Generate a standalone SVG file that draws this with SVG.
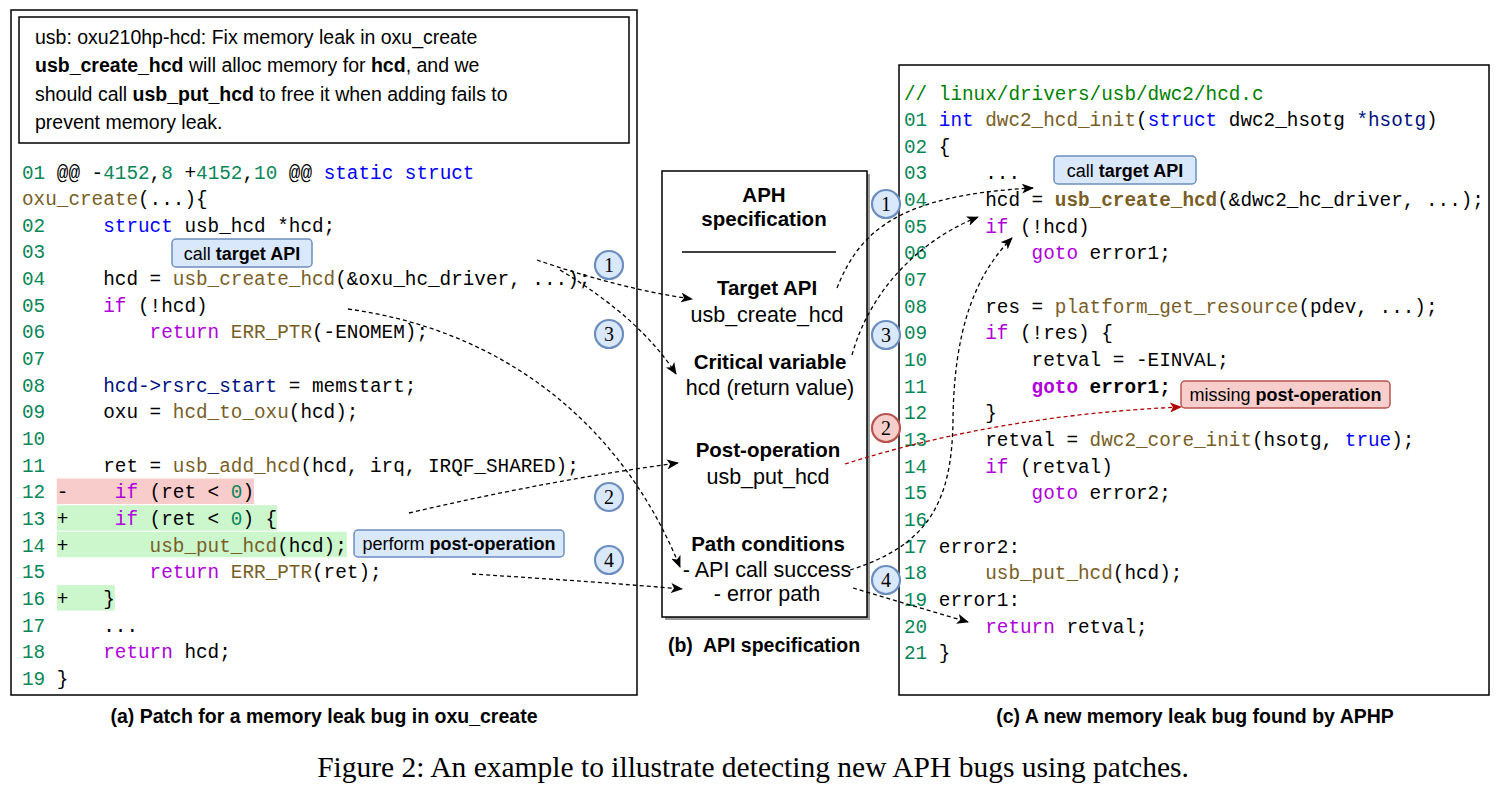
<svg xmlns="http://www.w3.org/2000/svg" width="1504" height="787" viewBox="0 0 1504 787">
<style>
.code{font-family:"Liberation Mono","DejaVu Sans Mono",monospace;font-size:19.33px;fill:#000;white-space:pre}
.n{fill:#098658}.k{fill:#0000ff}.m{fill:#af00db}.f{fill:#795e26}.v{fill:#001080}.c{fill:#008000}
.b{font-weight:bold}
.sans{font-family:"Liberation Sans",Arial,sans-serif;fill:#000}
.panel{fill:#fff;stroke:#000;stroke-width:1.5}
.blue{fill:#dae8fc;stroke:#6c8ebf;stroke-width:1.5}
.red{fill:#f8cecc;stroke:#b85450;stroke-width:1.5}
.circB{fill:#dae8fc;stroke:#6c8ebf;stroke-width:2.2}
.circR{fill:#f8cecc;stroke:#b85450;stroke-width:2.2}
.num{font-family:"Liberation Serif","Times New Roman",serif;font-size:20px;text-anchor:middle;fill:#000}
.dash{fill:none;stroke:#000;stroke-width:1.3;stroke-dasharray:4 3}
.dashR{fill:none;stroke:#b00000;stroke-width:1.3;stroke-dasharray:4 3}
.mid{font-family:"Liberation Sans",Arial,sans-serif;font-size:21.5px;text-anchor:middle;fill:#000}
.midb{font-family:"Liberation Sans",Arial,sans-serif;font-size:20.5px;font-weight:bold;text-anchor:middle;fill:#000}
</style>
<defs>
<marker id="ah" viewBox="0 0 12 10" refX="11" refY="5" markerWidth="12" markerHeight="10" markerUnits="userSpaceOnUse" orient="auto"><path d="M0,0 L12,5 L0,10 L3,5 z" fill="#000"/></marker>
<marker id="ahR" viewBox="0 0 12 10" refX="11" refY="5" markerWidth="12" markerHeight="10" markerUnits="userSpaceOnUse" orient="auto"><path d="M0,0 L12,5 L0,10 L3,5 z" fill="#b00000"/></marker>
</defs>
<rect width="1504" height="787" fill="#fff"/>

<!-- (a) left panel -->
<g id="left-panel">
<rect class="panel" x="11" y="10" width="626" height="685"/>
<g id="commit-msg">
<rect class="panel" x="19" y="17" width="610" height="126"/>
<text class="sans" font-size="19.5" x="35" y="43.5">usb: oxu210hp-hcd: Fix memory leak in oxu_create</text>
<text class="sans" font-size="19.5" x="35" y="72"><tspan class="b">usb_create_hcd</tspan> will alloc memory for <tspan class="b">hcd</tspan>, and we</text>
<text class="sans" font-size="19.5" x="35" y="100.5">should call <tspan class="b">usb_put_hcd</tspan> to free it when adding fails to</text>
<text class="sans" font-size="19.5" x="35" y="129">prevent memory leak.</text>
</g>
<rect x="56.8" y="478.5" width="197.2" height="25.5" fill="#f9cccc"/>
<rect x="56.8" y="505.2" width="220.4" height="25.5" fill="#ccf7cc"/>
<rect x="56.8" y="531.8" width="290" height="25.5" fill="#ccf7cc"/>
<rect x="56.8" y="585.1" width="58" height="25.5" fill="#ccf7cc"/>
<text class="code" xml:space="preserve" x="22" y="178.5"><tspan class="n">01</tspan> @@ -<tspan class="n">4152</tspan>,<tspan class="n">8</tspan> +<tspan class="n">4152</tspan>,<tspan class="n">10</tspan> @@ <tspan class="k">static struct</tspan></text>
<text class="code" xml:space="preserve" x="22" y="205.15"><tspan class="f">oxu_create</tspan>(...){</text>
<text class="code" xml:space="preserve" x="22" y="231.8"><tspan class="n">02</tspan>     <tspan class="k">struct</tspan> usb_hcd *hcd;</text>
<text class="code" xml:space="preserve" x="22" y="258.45"><tspan class="n">03</tspan></text>
<text class="code" xml:space="preserve" x="22" y="285.1"><tspan class="n">04</tspan>     hcd = <tspan class="f">usb_create_hcd</tspan>(&amp;oxu_hc_driver, ...);</text>
<text class="code" xml:space="preserve" x="22" y="311.75"><tspan class="n">05</tspan>     <tspan class="m">if</tspan> (!hcd)</text>
<text class="code" xml:space="preserve" x="22" y="338.4"><tspan class="n">06</tspan>         <tspan class="m">return</tspan> <tspan class="f">ERR_PTR</tspan>(-ENOMEM);</text>
<text class="code" xml:space="preserve" x="22" y="365.05"><tspan class="n">07</tspan></text>
<text class="code" xml:space="preserve" x="22" y="391.7"><tspan class="n">08</tspan>     <tspan class="v">hcd-&gt;rsrc_start</tspan> = memstart;</text>
<text class="code" xml:space="preserve" x="22" y="418.35"><tspan class="n">09</tspan>     oxu = <tspan class="f">hcd_to_oxu</tspan>(hcd);</text>
<text class="code" xml:space="preserve" x="22" y="445"><tspan class="n">10</tspan></text>
<text class="code" xml:space="preserve" x="22" y="471.65"><tspan class="n">11</tspan>     ret = <tspan class="f">usb_add_hcd</tspan>(hcd, irq, IRQF_SHARED);</text>
<text class="code" xml:space="preserve" x="22" y="498.3"><tspan class="n">12</tspan> -    <tspan class="m">if</tspan> (ret &lt; <tspan class="n">0</tspan>)</text>
<text class="code" xml:space="preserve" x="22" y="524.95"><tspan class="n">13</tspan> +    <tspan class="m">if</tspan> (ret &lt; <tspan class="n">0</tspan>) {</text>
<text class="code" xml:space="preserve" x="22" y="551.6"><tspan class="n">14</tspan> +       <tspan class="f">usb_put_hcd</tspan>(hcd);</text>
<text class="code" xml:space="preserve" x="22" y="578.25"><tspan class="n">15</tspan>         <tspan class="m">return</tspan> <tspan class="f">ERR_PTR</tspan>(ret);</text>
<text class="code" xml:space="preserve" x="22" y="604.9"><tspan class="n">16</tspan> +   }</text>
<text class="code" xml:space="preserve" x="22" y="631.55"><tspan class="n">17</tspan>     ...</text>
<text class="code" xml:space="preserve" x="22" y="658.2"><tspan class="n">18</tspan>     <tspan class="m">return</tspan> hcd;</text>
<text class="code" xml:space="preserve" x="22" y="684.85"><tspan class="n">19</tspan> }</text>
<g id="callout-left-api">
<rect class="blue" x="172" y="239" width="140" height="28" rx="4"/>
<text class="sans" font-size="18" x="242" y="259.5" text-anchor="middle">call <tspan class="b">target API</tspan></text>
</g>
<g id="callout-left-post">
<rect class="blue" x="354" y="530" width="210" height="27" rx="4"/>
<text class="sans" font-size="18" x="459" y="550" text-anchor="middle">perform <tspan class="b">post-operation</tspan></text>
</g>
<text class="sans b" font-size="19.5" x="324" y="723" text-anchor="middle">(a) Patch for a memory leak bug in oxu_create</text>
</g>

<!-- (b) middle spec -->
<g id="api-spec">
<rect x="665" y="174" width="205" height="446" fill="#9a9a9a"/>
<rect class="panel" x="662" y="171" width="205" height="446"/>
<text class="midb" x="764" y="202">APH</text>
<text class="midb" x="764" y="226">specification</text>
<line x1="682" y1="252" x2="836" y2="252" stroke="#000" stroke-width="1.3"/>
<text class="midb" x="767" y="295">Target API</text>
<text class="mid" x="767" y="322">usb_create_hcd</text>
<text class="midb" x="770" y="369">Critical variable</text>
<text class="mid" x="770" y="395">hcd (return value)</text>
<text class="midb" x="768" y="457">Post-operation</text>
<text class="mid" x="768" y="484">usb_put_hcd</text>
<text class="midb" x="768" y="551">Path conditions</text>
<text class="mid" x="767" y="577">- API call success</text>
<text class="mid" x="767" y="601">- error path</text>
<text class="sans b" font-size="19.5" x="764" y="652" text-anchor="middle" xml:space="preserve">(b)  API specification</text>
</g>

<!-- (c) right panel -->
<g id="right-panel">
<rect class="panel" x="899" y="65" width="590" height="630"/>
<text class="code" xml:space="preserve" x="904" y="99.5"><tspan class="c">// linux/drivers/usb/dwc2/hcd.c</tspan></text>
<text class="code" xml:space="preserve" x="904" y="126.15"><tspan class="n">01</tspan> <tspan class="k">int</tspan> <tspan class="f">dwc2_hcd_init</tspan>(<tspan class="k">struct</tspan> dwc2_hsotg <tspan class="v">*hsotg</tspan>)</text>
<text class="code" xml:space="preserve" x="904" y="152.8"><tspan class="n">02</tspan> {</text>
<text class="code" xml:space="preserve" x="904" y="179.45"><tspan class="n">03</tspan>     ...</text>
<text class="code" xml:space="preserve" x="904" y="206.1"><tspan class="n">04</tspan>     hcd = <tspan class="f b">usb_create_hcd</tspan>(&amp;dwc2_hc_driver, ...);</text>
<text class="code" xml:space="preserve" x="904" y="232.75"><tspan class="n">05</tspan>     <tspan class="m">if</tspan> (!hcd)</text>
<text class="code" xml:space="preserve" x="904" y="259.4"><tspan class="n">06</tspan>         <tspan class="m">goto</tspan> error1;</text>
<text class="code" xml:space="preserve" x="904" y="286.05"><tspan class="n">07</tspan></text>
<text class="code" xml:space="preserve" x="904" y="312.7"><tspan class="n">08</tspan>     res = <tspan class="f">platform_get_resource</tspan>(pdev, ...);</text>
<text class="code" xml:space="preserve" x="904" y="339.35"><tspan class="n">09</tspan>     <tspan class="m">if</tspan> (!res) {</text>
<text class="code" xml:space="preserve" x="904" y="366"><tspan class="n">10</tspan>         retval = -EINVAL;</text>
<text class="code" xml:space="preserve" x="904" y="392.65"><tspan class="n">11</tspan>         <tspan class="m b">goto</tspan> <tspan class="b">error1;</tspan></text>
<text class="code" xml:space="preserve" x="904" y="419.3"><tspan class="n">12</tspan>     }</text>
<text class="code" xml:space="preserve" x="904" y="445.95"><tspan class="n">13</tspan>     retval = <tspan class="f">dwc2_core_init</tspan>(hsotg, <tspan class="k">true</tspan>);</text>
<text class="code" xml:space="preserve" x="904" y="472.6"><tspan class="n">14</tspan>     <tspan class="m">if</tspan> (retval)</text>
<text class="code" xml:space="preserve" x="904" y="499.25"><tspan class="n">15</tspan>         <tspan class="m">goto</tspan> error2;</text>
<text class="code" xml:space="preserve" x="904" y="525.9"><tspan class="n">16</tspan></text>
<text class="code" xml:space="preserve" x="904" y="552.55"><tspan class="n">17</tspan> error2:</text>
<text class="code" xml:space="preserve" x="904" y="579.2"><tspan class="n">18</tspan>     <tspan class="f">usb_put_hcd</tspan>(hcd);</text>
<text class="code" xml:space="preserve" x="904" y="605.85"><tspan class="n">19</tspan> error1:</text>
<text class="code" xml:space="preserve" x="904" y="632.5"><tspan class="n">20</tspan>     <tspan class="m">return</tspan> retval;</text>
<text class="code" xml:space="preserve" x="904" y="659.15"><tspan class="n">21</tspan> }</text>
<g id="callout-right-api">
<rect class="blue" x="1054" y="156" width="142" height="28" rx="4"/>
<text class="sans" font-size="18" x="1125" y="176.5" text-anchor="middle">call <tspan class="b">target API</tspan></text>
</g>
<g id="callout-missing">
<rect class="red" x="1181" y="381" width="209" height="27" rx="4"/>
<text class="sans" font-size="18" x="1285.5" y="401" text-anchor="middle">missing <tspan class="b">post-operation</tspan></text>
</g>
<text class="sans b" font-size="19.5" x="1195" y="723" text-anchor="middle">(c) A new memory leak bug found by APHP</text>
</g>

<!-- connectors -->
<g id="connectors">
<path class="dash" d="M537,260 C580,275 640,292 692,299" marker-end="url(#ah)"/>
<path class="dash" d="M560,270 Q640,318 676,374" marker-end="url(#ah)"/>
<path class="dash" d="M348,309 C500,330 620,420 680,567" marker-end="url(#ah)"/>
<path class="dash" d="M409,513 Q550,480 678,463" marker-end="url(#ah)"/>
<path class="dash" d="M472,574 Q600,582 682,589" marker-end="url(#ah)"/>
<path class="dash" d="M837,288 C860,230 900,195 1033,188" marker-end="url(#ah)"/>
<path class="dash" d="M852,355 C870,290 920,240 978,217" marker-end="url(#ah)"/>
<path class="dash" d="M850,570 C930,545 952,500 953,420 C954,330 975,275 1012,238" marker-end="url(#ah)"/>
<path class="dash" d="M853,588 Q910,605 968,622" marker-end="url(#ah)"/>
<path class="dashR" d="M845,464 Q1000,415 1181,407" marker-end="url(#ahR)"/>
</g>

<!-- numbered circles -->
<g id="step-markers">
<circle class="circB" cx="609" cy="265" r="14"/><text class="num" x="609" y="272">1</text>
<circle class="circB" cx="609" cy="334" r="14"/><text class="num" x="609" y="341">3</text>
<circle class="circB" cx="609" cy="497" r="14"/><text class="num" x="609" y="504">2</text>
<circle class="circB" cx="609" cy="560" r="14"/><text class="num" x="609" y="567">4</text>
<circle class="circB" cx="886" cy="204" r="14"/><text class="num" x="886" y="211">1</text>
<circle class="circB" cx="886" cy="335" r="14"/><text class="num" x="886" y="342">3</text>
<circle class="circR" cx="886" cy="428" r="14"/><text class="num" x="886" y="435">2</text>
<circle class="circB" cx="886" cy="580" r="14"/><text class="num" x="886" y="587">4</text>
</g>

<text font-family="Liberation Serif,'Times New Roman',serif" font-size="29.5" x="753" y="777" text-anchor="middle">Figure 2: An example to illustrate detecting new APH bugs using patches.</text>
</svg>
